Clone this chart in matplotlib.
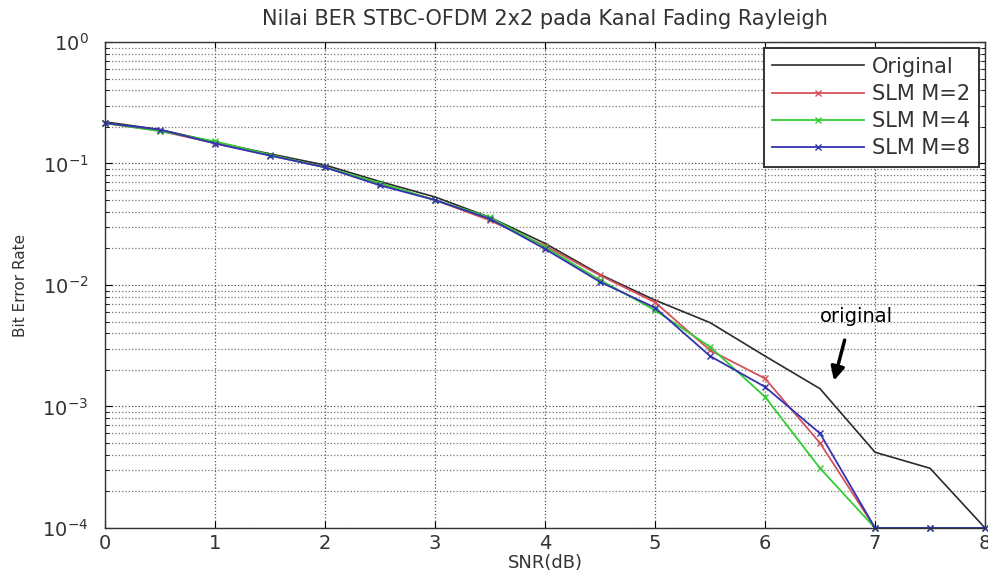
import matplotlib
matplotlib.use("Agg")
import matplotlib.pyplot as plt
from matplotlib.ticker import LogLocator, NullFormatter

plt.rcParams["font.family"] = ["DejaVu Sans"]

snr = [0, 0.5, 1, 1.5, 2, 2.5, 3, 3.5, 4, 4.5, 5, 5.5, 6, 6.5, 7, 7.5, 8]
ber_original = [0.22, 0.19, 0.15, 0.12, 0.097, 0.071, 0.053, 0.036, 0.022, 0.0122,
                0.0075, 0.0049, 0.0026, 0.0014, 0.00042, 0.00031, 0.0001]
ber_m2 = [0.215, 0.185, 0.147, 0.117, 0.093, 0.068, 0.05, 0.034, 0.021, 0.012,
          0.0072, 0.0029, 0.0017, 0.0005, 0.0001, 0.0001, 0.0001]
ber_m4 = [0.215, 0.185, 0.152, 0.118, 0.093, 0.069, 0.05, 0.036, 0.0205, 0.011,
          0.0062, 0.0031, 0.0012, 0.00031, 0.0001, 0.0001, 0.0001]
ber_m8 = [0.215, 0.19, 0.146, 0.116, 0.093, 0.066, 0.05, 0.035, 0.0198, 0.0106,
          0.0065, 0.0026, 0.00145, 0.0006, 0.0001, 0.0001, 0.0001]

fig = plt.figure(figsize=(9.88, 5.8), dpi=100)
ax = fig.add_axes([0.1063, 0.0897, 0.8907, 0.8379])

ax.semilogy(snr, ber_original, color="#2b2b2b", lw=1.2, label="Original", clip_on=False)
ax.semilogy(snr, ber_m2, color="#d4505a", lw=1.3, marker="x", ms=5, label="SLM M=2", clip_on=False)
ax.semilogy(snr, ber_m4, color="#33cc33", lw=1.3, marker="x", ms=5, label="SLM M=4", clip_on=False)
ax.semilogy(snr, ber_m8, color="#3333b0", lw=1.3, marker="x", ms=5, label="SLM M=8", clip_on=False)

ax.set_xlim(0, 8)
ax.set_ylim(1e-4, 1)
ax.yaxis.set_major_locator(LogLocator(base=10, numticks=10))
ax.yaxis.set_minor_locator(LogLocator(base=10, subs=range(2, 10), numticks=50))
ax.yaxis.set_minor_formatter(NullFormatter())
ax.grid(True, which="major", ls=":", color="#555555", lw=0.9)
ax.grid(True, which="minor", axis="y", ls=":", color="#777777", lw=0.9)
ax.tick_params(which="both", direction="in", top=True, right=True, labelsize=14,
               labelcolor="#333333")
ax.tick_params(axis="y", which="major", length=5, pad=12)
ax.tick_params(axis="x", which="major", length=5, pad=4)
ax.tick_params(which="minor", length=3)
for s in ax.spines.values():
    s.set_linewidth(1.0)
    s.set_color("#333333")

ax.set_title("Nilai BER STBC-OFDM 2x2 pada Kanal Fading Rayleigh", fontsize=15,
             pad=12, color="#333333")
ax.set_xlabel("SNR(dB)", fontsize=13, labelpad=1, color="#333333")
ax.set_ylabel("Bit Error Rate", fontsize=11, labelpad=10, color="#333333")

leg = ax.legend(loc="upper right", fontsize=15, fancybox=False, framealpha=1,
                edgecolor="#333333", borderpad=0.4, handlelength=4.4,
                labelspacing=0.35, borderaxespad=0.3, handletextpad=0.4)
leg.get_frame().set_linewidth(1.4)
for t in leg.get_texts():
    t.set_color("#333333")

ax.annotate("", xy=(6.62, 0.00155), xytext=(6.73, 0.0037),
            arrowprops=dict(arrowstyle="-|>", color="black", lw=2.5, mutation_scale=20))
ax.text(6.83, 0.0055, "original", fontsize=14, ha="center", va="center")

fig.savefig("out.png", dpi=100)
